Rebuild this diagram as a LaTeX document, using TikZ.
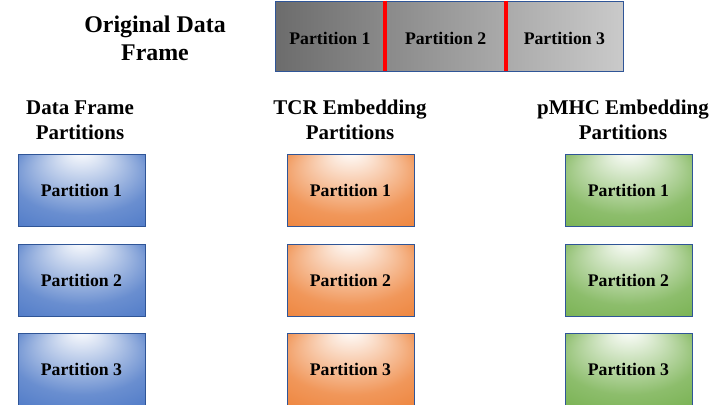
\documentclass[tikz,border=0pt]{standalone}
\usepackage{fontspec}
\setmainfont{Liberation Serif}
\usepackage{tikz}
\usetikzlibrary{positioning}

\definecolor{edgeblue}{RGB}{47,85,151}
\definecolor{partblue}{RGB}{68,114,196}
\definecolor{partorange}{RGB}{237,125,49}
\definecolor{partgreen}{RGB}{112,173,71}
\definecolor{darkgrey}{RGB}{108,108,108}
\definecolor{lightgrey}{RGB}{202,202,202}

\pgfdeclareradialshading{blueglow}{\pgfpoint{0bp}{28bp}}{%
  color(0bp)=(white); color(8bp)=(partblue!22); color(28bp)=(partblue!80); color(45bp)=(partblue)}
\pgfdeclareradialshading{orangeglow}{\pgfpoint{0bp}{28bp}}{%
  color(0bp)=(white); color(8bp)=(partorange!22); color(28bp)=(partorange!80); color(45bp)=(partorange)}
\pgfdeclareradialshading{greenglow}{\pgfpoint{0bp}{28bp}}{%
  color(0bp)=(white); color(8bp)=(partgreen!22); color(28bp)=(partgreen!80); color(45bp)=(partgreen)}

\begin{document}
\begin{tikzpicture}[
  line join=miter,
  part/.style={
    draw=edgeblue,
    line width=0.7pt,
    minimum width=3.175cm,
    minimum height=1.8cm,
    inner sep=0pt,
    font=\fontsize{12.6}{14}\selectfont\bfseries
  },
  dfpart/.style={part, shading=blueglow},
  tcrpart/.style={part, shading=orangeglow},
  pmhcpart/.style={part, shading=greenglow},
  heading/.style={
    align=center,
    font=\fontsize{14.9}{17.8}\selectfont\bfseries
  },
  cut/.style={
    draw=red,
    line width=3pt
  }
]

\useasboundingbox (0,0) rectangle (18,-10.125);

% =========================================================
% Original data frame
% =========================================================

\node[align=center, font=\fontsize{17}{19.8}\selectfont\bfseries]
  (title) at (3.875,-0.95) {Original Data\\Frame};

\node[draw=edgeblue, line width=0.7pt, minimum width=8.7cm,
  minimum height=1.75cm, left color=darkgrey, right color=lightgrey]
  (frame) at (11.225,-0.9) {};

\node[font=\fontsize{12.6}{14}\selectfont\bfseries] (whole1) at (8.25,-0.95) {Partition 1};
\node[font=\fontsize{12.6}{14}\selectfont\bfseries] (whole2) at (11.14,-0.95) {Partition 2};
\node[font=\fontsize{12.6}{14}\selectfont\bfseries] (whole3) at (14.11,-0.95) {Partition 3};

\coordinate (cut1) at (9.625,0);
\coordinate (cut2) at (12.65,0);

\draw[cut] (frame.north -| cut1) -- (frame.south -| cut1);
\draw[cut] (frame.north -| cut2) -- (frame.south -| cut2);


% =========================================================
% Column headings
% =========================================================

\node[heading] (dfhead) at (2.0,-3.0) {Data Frame\\Partitions};
\node[heading] (tcrhead) at (8.75,-3.0) {TCR Embedding\\Partitions};
\node[heading] (pmhchead) at (15.575,-3.0) {pMHC Embedding\\Partitions};


% ---------------- Data frame ----------------

\node[dfpart] (df1) at (2.0375,-4.75) {Partition 1};
\node[dfpart] (df2) at (2.0375,-7.0) {Partition 2};
\node[dfpart] (df3) at (2.0375,-9.24) {Partition 3};

% ---------------- TCR ----------------

\node[tcrpart] (tcr1) at (8.7625,-4.75) {Partition 1};
\node[tcrpart] (tcr2) at (8.7625,-7.0) {Partition 2};
\node[tcrpart] (tcr3) at (8.7625,-9.24) {Partition 3};

% ---------------- pMHC ----------------

\node[pmhcpart] (pmhc1) at (15.7125,-4.75) {Partition 1};
\node[pmhcpart] (pmhc2) at (15.7125,-7.0) {Partition 2};
\node[pmhcpart] (pmhc3) at (15.7125,-9.24) {Partition 3};

\end{tikzpicture}
\end{document}
